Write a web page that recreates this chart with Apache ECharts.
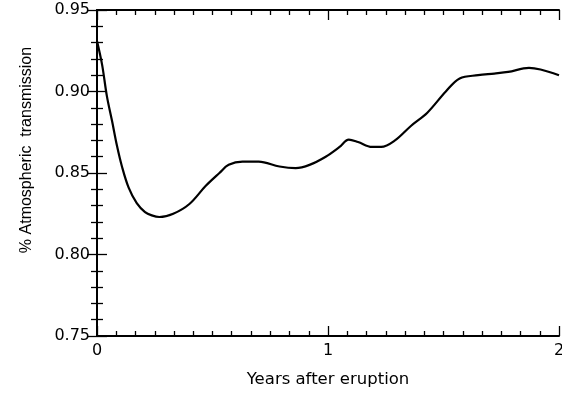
<!DOCTYPE html>
<html>
<head>
<meta charset="utf-8">
<script src="https://cdn.jsdelivr.net/npm/echarts@6/dist/echarts.min.js"></script>
<style>
  html, body { margin: 0; padding: 0; background: #fff; }
  #chart { width: 562px; height: 395px; }
</style>
</head>
<body>
<div id="chart"></div>
<script>
// Time since the eruption, in years
const years = [0, 0.022, 0.043, 0.065, 0.086, 0.108, 0.137, 0.172, 0.208, 0.237, 0.27,
  0.33, 0.40, 0.47, 0.53, 0.57, 0.63, 0.70, 0.79, 0.86, 0.92, 0.99, 1.05, 1.09, 1.13,
  1.19, 1.23, 1.29, 1.36, 1.43, 1.51, 1.57, 1.65, 1.72, 1.78, 1.87, 1.92, 2.0];

// Measured atmospheric transmission at each time
const transmission = [0.931, 0.9165, 0.897, 0.882, 0.867, 0.854, 0.841, 0.8315, 0.826,
  0.824, 0.823, 0.825, 0.831, 0.842, 0.850, 0.855, 0.857, 0.857, 0.854, 0.853, 0.855,
  0.860, 0.866, 0.8705, 0.869, 0.866, 0.866, 0.870, 0.879, 0.887, 0.900, 0.908, 0.910,
  0.911, 0.912, 0.9145, 0.9135, 0.910];

const xTickLabels = ['0', '1', '2'];
const yTickLabels = ['0.75', '0.80', '0.85', '0.90', '0.95'];

const xName = 'Years after eruption';
const yName = '% Atmospheric  transmission';

const black = '#000';
const labelFont = 'DejaVu Sans';
const tickStyle = { color: black, width: 1.3 };

function frameAxis(extra) {
  return Object.assign({
    type: 'value',
    axisLine: { show: true, lineStyle: { color: black, width: 2 } },
    axisTick: { show: true, inside: true, length: 10, lineStyle: tickStyle },
    splitLine: { show: false },
    minorSplitLine: { show: false }
  }, extra);
}

const chart = echarts.init(document.getElementById('chart'), null, { renderer: 'canvas' });

chart.setOption({
  animation: false,
  backgroundColor: '#fff',
  grid: { left: 97, right: 3, top: 10, bottom: 59, containLabel: false, outerBoundsMode: 'none' },
  xAxis: [
    frameAxis({
      position: 'bottom', min: 0, max: 2, interval: 1,
      minorTick: { show: true, splitNumber: 12, length: 5, lineStyle: tickStyle },
      axisLabel: {
        color: black, fontSize: 16, fontFamily: labelFont, margin: 7,
        formatter: v => xTickLabels[Math.round(v)]
      },
      name: xName, nameLocation: 'middle', nameGap: 35,
      nameTextStyle: { color: black, fontSize: 16.5, fontFamily: labelFont }
    }),
    frameAxis({
      position: 'top', min: 0, max: 2, interval: 1,
      minorTick: { show: true, splitNumber: 12, length: 5, lineStyle: tickStyle },
      axisLabel: { show: false }
    })
  ],
  yAxis: [
    frameAxis({
      position: 'left', min: 0.75, max: 0.95, interval: 0.05,
      minorTick: { show: true, splitNumber: 5, length: 6, lineStyle: tickStyle },
      axisLabel: {
        color: black, fontSize: 16, fontFamily: labelFont, margin: 7,
        formatter: v => yTickLabels[Math.round((v - 0.75) / 0.05)]
      },
      name: yName, nameLocation: 'middle', nameGap: 62,
      nameTextStyle: { color: black, fontSize: 16, fontFamily: 'Liberation Sans', padding: [0, 0, 0, 46] }
    }),
    frameAxis({
      position: 'right', min: 0.75, max: 0.95, interval: 0.05,
      minorTick: { show: true, splitNumber: 5, length: 6, lineStyle: tickStyle },
      axisLabel: { show: false }
    })
  ],
  series: [{
    type: 'line',
    xAxisIndex: 0,
    yAxisIndex: 0,
    data: years.map((t, i) => [t, transmission[i]]),
    showSymbol: false,
    smooth: 0.35,
    lineStyle: { color: black, width: 2.2 }
  }]
});
</script>
</body>
</html>
